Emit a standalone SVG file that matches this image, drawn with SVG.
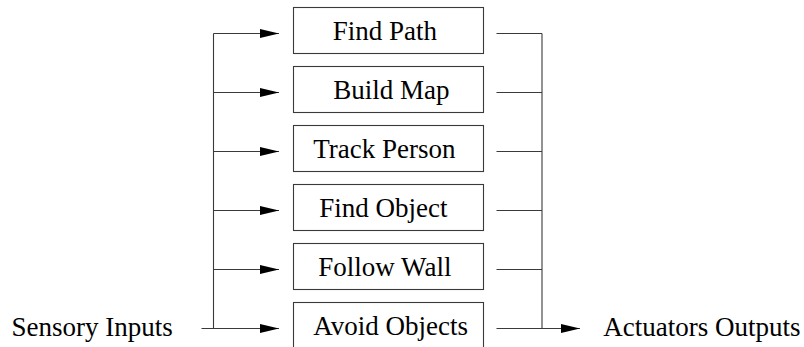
<svg xmlns="http://www.w3.org/2000/svg" width="804" height="347" viewBox="0 0 804 347">
  <style>
    .box { fill: #ffffff; stroke: #3a3a3a; stroke-width: 1.1; }
    .lbl { font-size: 27px; fill: #000000; }
    .wire { fill: none; stroke: #3a3a3a; stroke-width: 1.1; }
  </style>
  <defs>
    <marker id="arrow" markerUnits="userSpaceOnUse" markerWidth="20" markerHeight="10" refX="19" refY="4.5" orient="auto">
      <path d="M0,0 L19,4.5 L0,9 Z" fill="#000000"/>
    </marker>
  </defs>

  <rect width="804" height="347" fill="#ffffff"/>

  <!-- behaviour boxes -->
  <g id="find-path">
    <rect class="box" x="293.5" y="7.5" width="190" height="46"/>
    <text class="lbl" font-family="Times New Roman, Liberation Serif, Tinos, Noto Serif, DejaVu Serif, serif" x="332.7" y="40">Find Path</text>
  </g>
  <g id="build-map">
    <rect class="box" x="293.5" y="66.5" width="190" height="46"/>
    <text class="lbl" font-family="Times New Roman, Liberation Serif, Tinos, Noto Serif, DejaVu Serif, serif" x="333.3" y="99">Build Map</text>
  </g>
  <g id="track-person">
    <rect class="box" x="293.5" y="125.5" width="190" height="46"/>
    <text class="lbl" font-family="Times New Roman, Liberation Serif, Tinos, Noto Serif, DejaVu Serif, serif" x="313.3" y="158.3">Track Person</text>
  </g>
  <g id="find-object">
    <rect class="box" x="293.5" y="184.5" width="190" height="46"/>
    <text class="lbl" font-family="Times New Roman, Liberation Serif, Tinos, Noto Serif, DejaVu Serif, serif" x="319.3" y="217">Find Object</text>
  </g>
  <g id="follow-wall">
    <rect class="box" x="293.5" y="243.5" width="190" height="46"/>
    <text class="lbl" font-family="Times New Roman, Liberation Serif, Tinos, Noto Serif, DejaVu Serif, serif" x="318.3" y="276.3">Follow Wall</text>
  </g>
  <g id="avoid-objects">
    <rect class="box" x="293.5" y="302.5" width="190" height="46"/>
    <text class="lbl" font-family="Times New Roman, Liberation Serif, Tinos, Noto Serif, DejaVu Serif, serif" x="313.3" y="335">Avoid Objects</text>
  </g>

  <!-- terminal labels -->
  <g id="sensory-inputs">
    <text class="lbl" font-family="Times New Roman, Liberation Serif, Tinos, Noto Serif, DejaVu Serif, serif" x="11.5" y="336">Sensory Inputs</text>
  </g>
  <g id="actuators-outputs">
    <text class="lbl" font-family="Times New Roman, Liberation Serif, Tinos, Noto Serif, DejaVu Serif, serif" x="603.3" y="335.5">Actuators Outputs</text>
  </g>

  <!-- connectors -->
  <g id="connectors">
    <!-- input bus -->
    <path class="wire" d="M213.5,33.5 V328.5"/>
    <path class="wire" d="M201.5,328.5 H279" marker-end="url(#arrow)"/>
    <path class="wire" d="M213.5,33.5 H279" marker-end="url(#arrow)"/>
    <path class="wire" d="M213.5,92.5 H279" marker-end="url(#arrow)"/>
    <path class="wire" d="M213.5,151.5 H279" marker-end="url(#arrow)"/>
    <path class="wire" d="M213.5,210.5 H279" marker-end="url(#arrow)"/>
    <path class="wire" d="M213.5,269.5 H279" marker-end="url(#arrow)"/>
    <!-- output bus -->
    <path class="wire" d="M542,33.5 V328.5"/>
    <path class="wire" d="M496.5,33.5 H542"/>
    <path class="wire" d="M496.5,92.5 H542"/>
    <path class="wire" d="M496.5,151.5 H542"/>
    <path class="wire" d="M496.5,210.5 H542"/>
    <path class="wire" d="M496.5,269.5 H542"/>
    <path class="wire" d="M496.5,328.5 H580" marker-end="url(#arrow)"/>
  </g>
</svg>
